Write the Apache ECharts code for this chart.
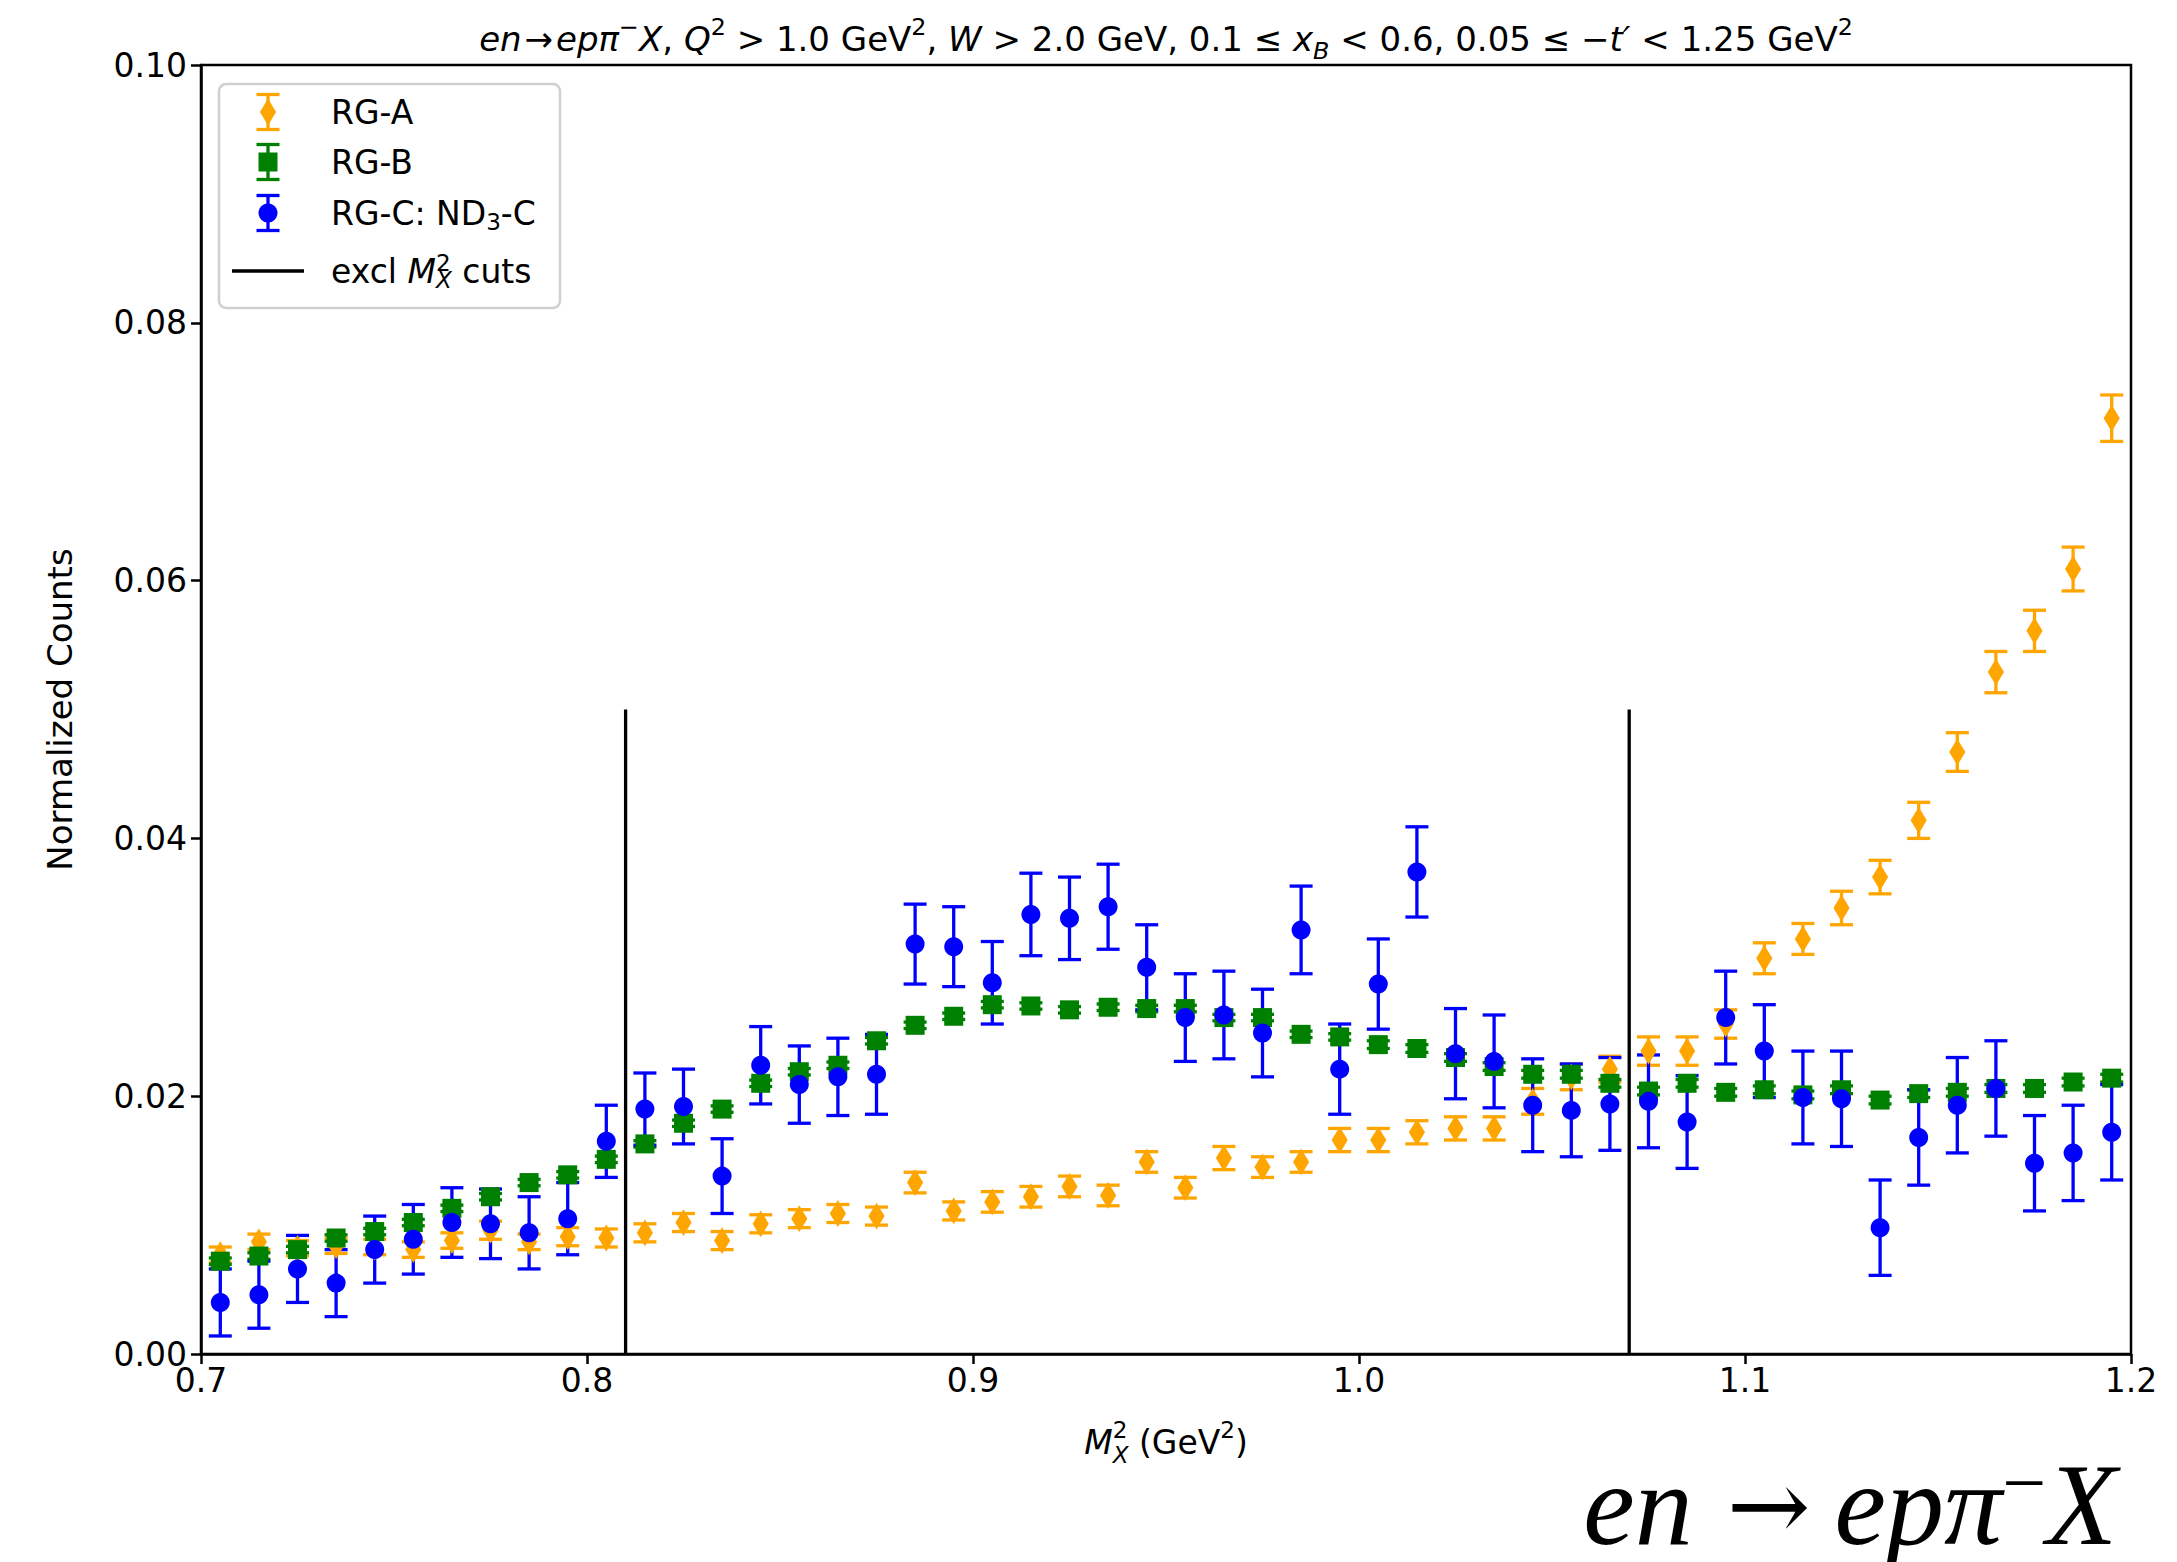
<!DOCTYPE html>
<html>
<head>
<meta charset="utf-8">
<script src="https://cdn.jsdelivr.net/npm/echarts@6/dist/echarts.min.js"></script>
<style>
  html, body { margin: 0; padding: 0; background: #ffffff; }
  #chart { width: 2177px; height: 1562px; }
</style>
</head>
<body>
<div id="chart"></div>
<script>
// Missing-mass-squared bin centres (GeV^2)
const mx2 = [0.705, 0.715, 0.725, 0.735, 0.745, 0.755, 0.765, 0.775, 0.785, 0.795,
             0.805, 0.815, 0.825, 0.835, 0.845, 0.855, 0.865, 0.875, 0.885, 0.895,
             0.905, 0.915, 0.925, 0.935, 0.945, 0.955, 0.965, 0.975, 0.985, 0.995,
             1.005, 1.015, 1.025, 1.035, 1.045, 1.055, 1.065, 1.075, 1.085, 1.095,
             1.105, 1.115, 1.125, 1.135, 1.145, 1.155, 1.165, 1.175, 1.185, 1.195];

// RG-A normalized counts and uncertainties
const rgaVal = [0.0077, 0.0087, 0.0082, 0.0084, 0.0083, 0.0081, 0.0088, 0.0096, 0.0087, 0.0091,
                0.0090, 0.0094, 0.0102, 0.0088, 0.0101, 0.0105, 0.0109, 0.0107, 0.0133, 0.0111,
                0.0118, 0.0122, 0.0130, 0.0123, 0.0149, 0.0129, 0.0152, 0.0145, 0.0149, 0.0166,
                0.0166, 0.0172, 0.0175, 0.0175, 0.0196, 0.0215, 0.0221, 0.0235, 0.0235, 0.0256,
                0.0307, 0.0322, 0.0346, 0.0370, 0.0414, 0.0467, 0.0529, 0.0561, 0.0609, 0.0726];
const rgaErr = [0.0006, 0.0006, 0.0006, 0.0006, 0.0006, 0.0006, 0.0006, 0.0007, 0.0006, 0.0007,
                0.0007, 0.0007, 0.0007, 0.0007, 0.0007, 0.0007, 0.0007, 0.0007, 0.0008, 0.0007,
                0.0008, 0.0008, 0.0008, 0.0008, 0.0008, 0.0008, 0.0009, 0.0008, 0.0008, 0.0009,
                0.0009, 0.0009, 0.0009, 0.0009, 0.0010, 0.0010, 0.0010, 0.0011, 0.0011, 0.0011,
                0.0012, 0.0012, 0.0013, 0.0013, 0.0014, 0.0015, 0.0016, 0.0016, 0.0017, 0.0018];

// RG-B normalized counts and uncertainties
const rgbVal = [0.0072, 0.0076, 0.0081, 0.0090, 0.0095, 0.0102, 0.0113, 0.0122, 0.0133, 0.0139,
                0.0151, 0.0163, 0.0179, 0.0190, 0.0210, 0.0219, 0.0224, 0.0243, 0.0255, 0.0262,
                0.0271, 0.0270, 0.0267, 0.0269, 0.0268, 0.0268, 0.0261, 0.0261, 0.0248, 0.0246,
                0.0240, 0.0237, 0.0230, 0.0223, 0.0217, 0.0217, 0.0210, 0.0204, 0.0210, 0.0203,
                0.0205, 0.0201, 0.0205, 0.0197, 0.0202, 0.0203, 0.0206, 0.0206, 0.0211, 0.0214];
const rgbErr = [0.00025, 0.00025, 0.00025, 0.00025, 0.00025, 0.00025, 0.00025, 0.00025, 0.00025, 0.00025,
                0.00025, 0.00025, 0.00025, 0.00025, 0.00025, 0.00025, 0.00025, 0.00025, 0.00025, 0.00025,
                0.00025, 0.00025, 0.00025, 0.00025, 0.00025, 0.00025, 0.00025, 0.00025, 0.00025, 0.00025,
                0.0003, 0.0003, 0.0003, 0.0003, 0.0003, 0.0003, 0.0003, 0.0003, 0.0003, 0.0003,
                0.0003, 0.0003, 0.0003, 0.0003, 0.0003, 0.0003, 0.0003, 0.0003, 0.0003, 0.0003];

// RG-C (ND3 minus C) normalized counts and uncertainties
const rgcVal = [0.0040, 0.0046, 0.0066, 0.0055, 0.0081, 0.0089, 0.0102, 0.0101, 0.0094, 0.0105,
                0.0165, 0.0190, 0.0192, 0.0138, 0.0224, 0.0209, 0.0215, 0.0217, 0.0318, 0.0316,
                0.0288, 0.0341, 0.0338, 0.0347, 0.0300, 0.0261, 0.0263, 0.0249, 0.0329, 0.0221,
                0.0287, 0.0374, 0.0233, 0.0227, 0.0193, 0.0189, 0.0194, 0.0196, 0.0180, 0.0261,
                0.0235, 0.0199, 0.0198, 0.0098, 0.0168, 0.0193, 0.0206, 0.0148, 0.0156, 0.0172];
const rgcErr = [0.0026, 0.0026, 0.0026, 0.0026, 0.0026, 0.0027, 0.0027, 0.0027, 0.0028, 0.0028,
                0.0028, 0.0028, 0.0029, 0.0029, 0.0030, 0.0030, 0.0030, 0.0031, 0.0031, 0.0031,
                0.0032, 0.0032, 0.0032, 0.0033, 0.0033, 0.0034, 0.0034, 0.0034, 0.0034, 0.0035,
                0.0035, 0.0035, 0.0035, 0.0036, 0.0036, 0.0036, 0.0036, 0.0036, 0.0036, 0.0036,
                0.0036, 0.0036, 0.0037, 0.0037, 0.0037, 0.0037, 0.0037, 0.0037, 0.0037, 0.0037];

// Exclusivity cut positions in M_X^2 and the height of the cut markers
const cuts = [0.81, 1.07];
const cutTop = 0.05;

// Axis ranges and ticks
const xMin = 0.7, xMax = 1.2, xStep = 0.1;
const yMin = 0.0, yMax = 0.1, yStep = 0.02;

const FONT = 'DejaVu Sans';
const FS = 33;
const LW = 3.3;       // error bar / line width
const CAP = 11.5;     // half width of error bar caps
const MS = 19;        // marker size

const COL_A = '#FFA500', COL_B = '#008000', COL_C = '#0000FF';

// Rich-text styles for simple math-like labels (super/subscripts)
function mathRich(size, family, lh) {
  const s = size * 0.7;
  return {
    n:   { fontFamily: family, fontSize: size, lineHeight: lh, color: '#000' },
    i:   { fontFamily: family, fontSize: size, fontStyle: 'italic', lineHeight: lh, color: '#000' },
    sup: { fontFamily: family, fontSize: s, verticalAlign: 'top', color: '#000' },
    sub: { fontFamily: family, fontSize: s, verticalAlign: 'bottom', color: '#000' },
    subi:{ fontFamily: family, fontSize: s, fontStyle: 'italic', verticalAlign: 'bottom', color: '#000' },
    // italic subscript stacked under the preceding superscript digit
    subk:{ fontFamily: family, fontSize: s, fontStyle: 'italic', verticalAlign: 'bottom', color: '#000',
           padding: [0, 0, 0, -0.636 * s] },
    // operator with a little extra room on both sides
    op:  { fontFamily: family, fontSize: size, lineHeight: lh, color: '#000', padding: [0, 3, 0, 3] }
  };
}

const pack = (vals, errs) => mx2.map((x, k) => [x, vals[k], errs[k]]);

function errorBarRenderer(color) {
  return function (params, api) {
    const x = api.value(0), y = api.value(1), e = api.value(2);
    const lo = api.coord([x, y - e]);
    const hi = api.coord([x, y + e]);
    const style = { stroke: color, lineWidth: LW, fill: null };
    return {
      type: 'group',
      children: [
        { type: 'line', shape: { x1: lo[0], y1: lo[1], x2: hi[0], y2: hi[1] }, style },
        { type: 'line', shape: { x1: lo[0] - CAP, y1: lo[1], x2: lo[0] + CAP, y2: lo[1] }, style },
        { type: 'line', shape: { x1: hi[0] - CAP, y1: hi[1], x2: hi[0] + CAP, y2: hi[1] }, style }
      ]
    };
  };
}

function cutRenderer(params, api) {
  const a = api.coord([api.value(0), api.value(1)]);
  const b = api.coord([api.value(0), api.value(2)]);
  return { type: 'line', shape: { x1: a[0], y1: a[1], x2: b[0], y2: b[1] },
           style: { stroke: '#000', lineWidth: LW } };
}

function errSeries(name, color, vals, errs) {
  return {
    name, type: 'custom', renderItem: errorBarRenderer(color),
    data: pack(vals, errs), encode: { x: 0, y: 1 }, silent: true, animation: false
  };
}
function markSeries(name, color, vals, symbol, size) {
  return {
    name, type: 'scatter', symbol, symbolSize: size,
    data: mx2.map((x, k) => [x, vals[k]]),
    itemStyle: { color, opacity: 1 }, silent: true, animation: false
  };
}

// Legend drawn as a framed box in the upper-left corner of the plot
const LEG = { x: 219, y: 84, w: 341, h: 224, iconX: 268, textX: 331, rows: [112, 162, 213, 271] };
function barIcon(cy, color, marker) {
  const st = { stroke: color, lineWidth: LW };
  const h = 17.5;
  const parts = [
    { type: 'line', shape: { x1: LEG.iconX, y1: cy - h, x2: LEG.iconX, y2: cy + h }, style: st },
    { type: 'line', shape: { x1: LEG.iconX - CAP, y1: cy - h, x2: LEG.iconX + CAP, y2: cy - h }, style: st },
    { type: 'line', shape: { x1: LEG.iconX - CAP, y1: cy + h, x2: LEG.iconX + CAP, y2: cy + h }, style: st },
    marker
  ];
  parts.forEach(p => { p.z = 12; });
  return parts;
}
const richLegend = mathRich(FS, FONT, 40);
const legendText = (row, text) => ({
  type: 'text', x: LEG.textX, y: LEG.rows[row], z: 12,
  style: { text, rich: richLegend, verticalAlign: 'middle', align: 'left' }
});
const legendGraphics = [].concat(
  [{ type: 'rect', shape: { x: LEG.x, y: LEG.y, width: LEG.w, height: LEG.h, r: 7 },
     style: { fill: 'rgba(255,255,255,0.85)', stroke: '#cfcfcf', lineWidth: 2.5 }, z: 10 }],
  barIcon(LEG.rows[0], COL_A,
    { type: 'polygon', shape: { points: [[LEG.iconX, LEG.rows[0] - 13.4], [LEG.iconX + 8, LEG.rows[0]],
                                         [LEG.iconX, LEG.rows[0] + 13.4], [LEG.iconX - 8, LEG.rows[0]]] },
      style: { fill: COL_A } }),
  barIcon(LEG.rows[1], COL_B,
    { type: 'rect', shape: { x: LEG.iconX - MS / 2, y: LEG.rows[1] - MS / 2, width: MS, height: MS },
      style: { fill: COL_B } }),
  barIcon(LEG.rows[2], COL_C,
    { type: 'circle', shape: { cx: LEG.iconX, cy: LEG.rows[2], r: MS / 2 }, style: { fill: COL_C } }),
  [{ type: 'line', shape: { x1: 232, y1: LEG.rows[3], x2: 304, y2: LEG.rows[3] },
     style: { stroke: '#000', lineWidth: LW }, z: 12 }],
  [legendText(0, '{n|RG-A}'),
   legendText(1, '{n|RG-B}'),
   legendText(2, '{n|RG-C: ND}{sub|3}{n|-C}'),
   legendText(3, '{n|excl }{i|M}{sup|2}{subk|X}{n| cuts}')]
);

const titleText = '{i|en}{op|\u2192}{i|ep\u03c0}{sup|\u2212}{i|X}{n|, }{i|Q}{sup|2}{n| > 1.0 GeV}{sup|2}{n|, }' +
                  '{i|W}{n| > 2.0 GeV, 0.1 \u2264 }{i|x}{subi|B}{n| < 0.6, 0.05 \u2264 \u2212}{i|t\u2032}' +
                  '{n| < 1.25 GeV}{sup|2}';

// Large reaction label in the lower right corner
const BIG = 116;
const bigRich = {
  i:   { fontFamily: 'Liberation Serif', fontSize: BIG, fontStyle: 'italic', lineHeight: 96, color: '#000' },
  arr: { fontFamily: 'DejaVu Serif', fontSize: 100, lineHeight: 96, color: '#000', padding: [0, 24, 0, 34] },
  sup: { fontFamily: 'Liberation Serif', fontSize: 78, lineHeight: 16, verticalAlign: 'top', color: '#000',
         padding: [-14, 0, 0, 0] }
};

const chart = echarts.init(document.getElementById('chart'), null, { renderer: 'svg' });
chart.setOption({
  backgroundColor: '#ffffff',
  animation: false,
  grid: { left: 201, right: 46, top: 65, bottom: 208, show: true,
          borderColor: '#000', borderWidth: 2.5, backgroundColor: 'transparent' },
  xAxis: {
    type: 'value', min: xMin, max: xMax, interval: xStep,
    name: '{i|M}{sup|2}{subk|X}{n| (GeV}{sup|2}{n|)}',
    nameLocation: 'middle', nameGap: 64,
    nameTextStyle: { rich: mathRich(FS, FONT, 48) },
    axisLine: { show: true, onZero: false, lineStyle: { color: '#000', width: 2.5 } },
    axisTick: { show: true, length: 10, lineStyle: { color: '#000', width: 2.5 } },
    axisLabel: { margin: 10, fontFamily: FONT, fontSize: FS, color: '#000',
                 formatter: v => v.toFixed(1) },
    splitLine: { show: false }
  },
  yAxis: {
    type: 'value', min: yMin, max: yMax, interval: yStep,
    name: 'Normalized Counts', nameLocation: 'middle', nameRotate: 90, nameGap: 124,
    nameTextStyle: { fontFamily: FONT, fontSize: 34, color: '#000' },
    axisLine: { show: true, onZero: false, lineStyle: { color: '#000', width: 2.5 } },
    axisTick: { show: true, length: 10, lineStyle: { color: '#000', width: 2.5 } },
    axisLabel: { margin: 14, fontFamily: FONT, fontSize: FS, color: '#000',
                 formatter: v => v.toFixed(2) },
    splitLine: { show: false }
  },
  graphic: [
    { type: 'text', x: 1166, y: 39, z: 5,
      style: { text: titleText, rich: mathRich(34, FONT, 48), align: 'center', verticalAlign: 'middle' } },
    { type: 'text', x: 2117, y: 1505, z: 5,
      style: { text: '{i|en}{arr|\u2192}{i|ep\u03c0}{sup|\u2212}{i|X}', rich: bigRich,
               align: 'right', verticalAlign: 'middle' } }
  ].concat(legendGraphics),
  series: [
    errSeries('RG-A', COL_A, rgaVal, rgaErr),
    markSeries('RG-A', COL_A, rgaVal, 'diamond', [MS * 0.85, MS * 1.41]),
    errSeries('RG-B', COL_B, rgbVal, rgbErr),
    markSeries('RG-B', COL_B, rgbVal, 'rect', [MS, MS]),
    errSeries('RG-C: ND3-C', COL_C, rgcVal, rgcErr),
    markSeries('RG-C: ND3-C', COL_C, rgcVal, 'circle', MS),
    {
      name: 'excl cuts', type: 'custom', renderItem: cutRenderer,
      data: cuts.map(c => [c, yMin, cutTop]), encode: { x: 0, y: [1, 2] },
      silent: true, animation: false
    }
  ]
});
</script>
</body>
</html>
